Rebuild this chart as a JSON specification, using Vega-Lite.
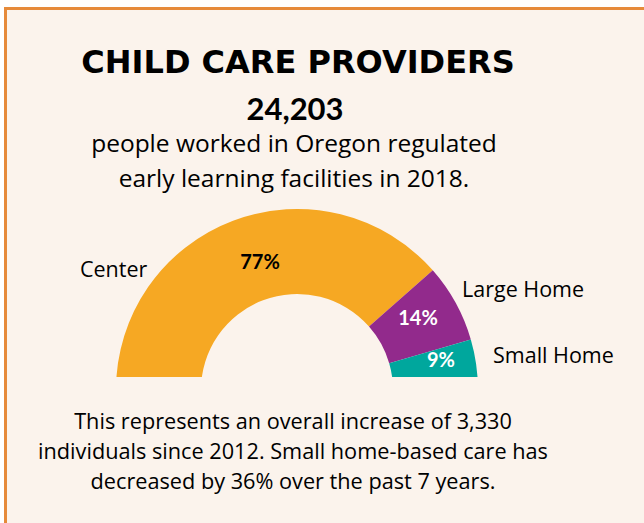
{
  "$schema": "https://vega.github.io/schema/vega-lite/v6.json",
  "width": 644,
  "height": 523,
  "autosize": {"type": "none"},
  "padding": 0,
  "background": "#FFFFFF",
  "config": {"view": {"stroke": null}, "font": "Open Sans"},
  "datasets": {
    "shares": [
      {"category": "Center", "share": 0.77},
      {"category": "Large Home", "share": 0.14},
      {"category": "Small Home", "share": 0.09}
    ]
  },
  "encoding": {
    "x": {"datum": 0, "type": "quantitative", "scale": {"domain": [0, 644], "nice": false, "zero": false}, "axis": null},
    "y": {"datum": 0, "type": "quantitative", "scale": {"domain": [0, 523], "nice": false, "zero": false, "reverse": true}, "axis": null}
  },
  "layer": [
    {
      "data": {"values": [{}]},
      "mark": {"type": "rect", "fill": "#FBF3EC", "stroke": "#E68A3A", "strokeWidth": 3},
      "encoding": {
        "x": {"datum": 5.5, "type": "quantitative"},
        "x2": {"datum": 700},
        "y": {"datum": 8.5, "type": "quantitative"},
        "y2": {"datum": 600}
      }
    },
    {
      "data": {"name": "shares"},
      "mark": {"type": "arc", "radius": 181, "radius2": 96},
      "encoding": {
        "x": {"datum": 297, "type": "quantitative"},
        "y": {"datum": 390, "type": "quantitative"},
        "theta": {"field": "share", "type": "quantitative", "stack": true, "scale": {"domain": [0, 1], "range": [-1.5708, 1.5708]}},
        "color": {"field": "category", "type": "nominal", "scale": {"domain": ["Center", "Large Home", "Small Home"], "range": ["#F6A823", "#922A8C", "#00A79D"]}, "legend": null},
        "order": {"field": "share", "type": "quantitative", "sort": "descending"}
      }
    },
    {
      "data": {"values": [{}]},
      "mark": {"type": "rect", "fill": "#FBF3EC"},
      "encoding": {
        "x": {"datum": 100, "type": "quantitative"},
        "x2": {"datum": 500},
        "y": {"datum": 377, "type": "quantitative"},
        "y2": {"datum": 395}
      }
    },
    {
      "data": {"name": "shares"},
      "transform": [{"filter": "datum.category === 'Center'"}],
      "mark": {"type": "text", "font": "Lato", "fontSize": 20, "fontWeight": "bold", "align": "center", "baseline": "alphabetic", "color": "#000000"},
      "encoding": {
        "x": {"datum": 260, "type": "quantitative"},
        "y": {"datum": 269, "type": "quantitative"},
        "text": {"field": "share", "type": "quantitative", "format": ".0%"}
      }
    },
    {
      "data": {"name": "shares"},
      "transform": [{"filter": "datum.category === 'Large Home'"}],
      "mark": {"type": "text", "font": "Lato", "fontSize": 20, "fontWeight": "bold", "align": "center", "baseline": "alphabetic", "color": "#FFFFFF"},
      "encoding": {
        "x": {"datum": 418, "type": "quantitative"},
        "y": {"datum": 325, "type": "quantitative"},
        "text": {"field": "share", "type": "quantitative", "format": ".0%"}
      }
    },
    {
      "data": {"name": "shares"},
      "transform": [{"filter": "datum.category === 'Small Home'"}],
      "mark": {"type": "text", "font": "Lato", "fontSize": 20, "fontWeight": "bold", "align": "center", "baseline": "alphabetic", "color": "#FFFFFF"},
      "encoding": {
        "x": {"datum": 441, "type": "quantitative"},
        "y": {"datum": 367, "type": "quantitative"},
        "text": {"field": "share", "type": "quantitative", "format": ".0%"}
      }
    },
    {
      "data": {"values": [{"t": "CHILD CARE PROVIDERS"}]},
      "mark": {"type": "text", "font": "DejaVu Sans", "fontSize": 32, "fontWeight": "bold", "align": "center", "baseline": "alphabetic", "color": "#000000"},
      "encoding": {"x": {"datum": 298, "type": "quantitative"}, "y": {"datum": 73, "type": "quantitative"}, "text": {"field": "t"}}
    },
    {
      "data": {"values": [{"t": "24,203"}]},
      "mark": {"type": "text", "font": "Lato", "fontSize": 31, "fontWeight": "bold", "align": "center", "baseline": "alphabetic", "color": "#000000"},
      "encoding": {"x": {"datum": 295, "type": "quantitative"}, "y": {"datum": 120, "type": "quantitative"}, "text": {"field": "t"}}
    },
    {
      "data": {"values": [{"t": ["people worked in Oregon regulated", "early learning facilities in 2018."]}]},
      "mark": {"type": "text", "fontSize": 24.5, "lineHeight": 35, "align": "center", "baseline": "alphabetic", "color": "#000000"},
      "encoding": {"x": {"datum": 294, "type": "quantitative"}, "y": {"datum": 152, "type": "quantitative"}, "text": {"field": "t"}}
    },
    {
      "data": {"values": [{"t": "Center"}]},
      "mark": {"type": "text", "fontSize": 21.5, "align": "left", "baseline": "alphabetic", "color": "#000000"},
      "encoding": {"x": {"datum": 80, "type": "quantitative"}, "y": {"datum": 277, "type": "quantitative"}, "text": {"field": "t"}}
    },
    {
      "data": {"values": [{"t": "Large Home"}]},
      "mark": {"type": "text", "fontSize": 21.5, "align": "left", "baseline": "alphabetic", "color": "#000000"},
      "encoding": {"x": {"datum": 462, "type": "quantitative"}, "y": {"datum": 297, "type": "quantitative"}, "text": {"field": "t"}}
    },
    {
      "data": {"values": [{"t": "Small Home"}]},
      "mark": {"type": "text", "fontSize": 21.5, "align": "left", "baseline": "alphabetic", "color": "#000000"},
      "encoding": {"x": {"datum": 493, "type": "quantitative"}, "y": {"datum": 363, "type": "quantitative"}, "text": {"field": "t"}}
    },
    {
      "data": {"values": [{"t": ["This represents an overall increase of 3,330", "individuals since 2012. Small home-based care has", "decreased by 36% over the past 7 years."]}]},
      "mark": {"type": "text", "fontSize": 21.7, "lineHeight": 30, "align": "center", "baseline": "alphabetic", "color": "#000000"},
      "encoding": {"x": {"datum": 293, "type": "quantitative"}, "y": {"datum": 429, "type": "quantitative"}, "text": {"field": "t"}}
    }
  ]
}
